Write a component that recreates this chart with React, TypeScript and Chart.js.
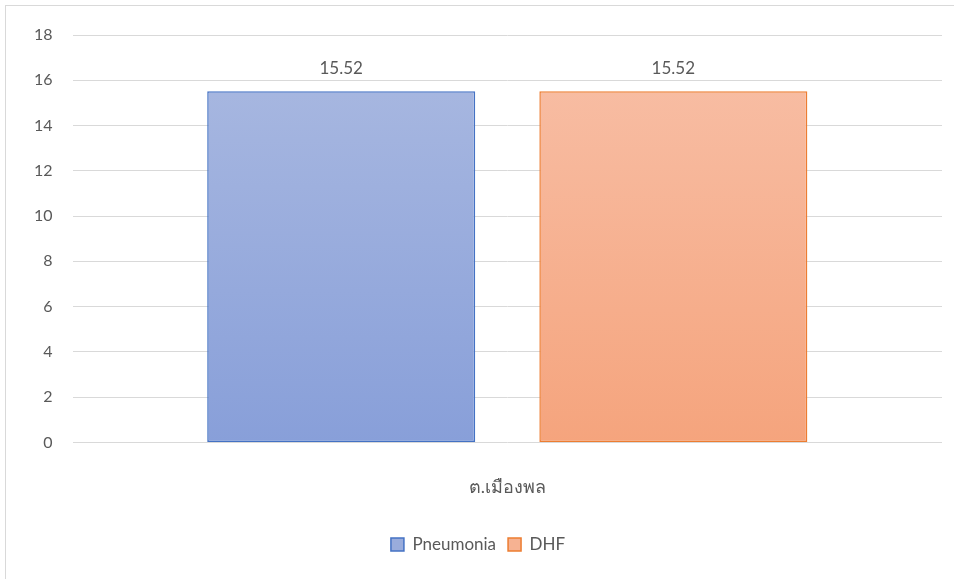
import React, { useEffect, useRef } from "react";
import { Chart, registerables } from "chart.js";

Chart.register(...registerables);

const categories = ["ต.เมืองพล"];
const seriesNames = ["Pneumonia", "DHF"];
const pneumoniaValues = [15.52];
const dhfValues = [15.52];
const yTicks = [0, 2, 4, 6, 8, 10, 12, 14, 16, 18];

const FONT = "Lato, 'Open Sans', 'Noto Sans', sans-serif";
const TEXT = "#595959";

function grad(ctx: any, top: string, bottom: string, fallback: string) {
  const chart = ctx.chart;
  const area = chart.chartArea;
  if (!area) return fallback;
  const g = chart.ctx.createLinearGradient(0, area.top, 0, area.bottom);
  g.addColorStop(0, top);
  g.addColorStop(1, bottom);
  return g;
}

const valueLabels = {
  id: "valueLabels",
  afterDatasetsDraw(chart: any) {
    const { ctx } = chart;
    ctx.save();
    ctx.font = `17px ${FONT}`;
    ctx.fillStyle = TEXT;
    ctx.textAlign = "center";
    ctx.textBaseline = "bottom";
    chart.data.datasets.forEach((ds: any, i: number) => {
      const meta = chart.getDatasetMeta(i);
      meta.data.forEach((bar: any, j: number) => {
        ctx.fillText(ds.data[j].toFixed(2), bar.x, bar.y - 14);
      });
    });
    ctx.restore();
  },
};

export default function App() {
  const ref = useRef<HTMLCanvasElement>(null);
  useEffect(() => {
    if (!ref.current) return;
    const chart = new Chart(ref.current, {
      type: "bar",
      data: {
        labels: categories,
        datasets: [
          {
            label: seriesNames[0],
            data: pneumoniaValues,
            backgroundColor: (c: any) => grad(c, "#abbae1", "#889fd9", "#99acdc"),
            borderColor: "#4472c4",
            borderWidth: 1.5,
            borderSkipped: false,
          },
          {
            label: seriesNames[1],
            data: dhfValues,
            backgroundColor: (c: any) => grad(c, "#f8c0a8", "#f5a47d", "#f6b292"),
            borderColor: "#ed7d31",
            borderWidth: 1.5,
            borderSkipped: false,
          },
        ],
      },
      options: {
        responsive: false,
        animation: false,
        layout: { padding: { left: 14, right: 12, top: 35, bottom: 16 } },
        datasets: { bar: { categoryPercentage: 0.764, barPercentage: 0.807 } },
        scales: {
          x: {
            grid: { display: false },
            border: { display: false },
            ticks: { color: TEXT, font: { family: FONT, size: 18 }, padding: 26 },
          },
          y: {
            min: 0,
            max: 18,
            afterBuildTicks: (axis: any) => {
              axis.ticks = yTicks.map((v) => ({ value: v }));
            },
            grid: { color: "#d9d9d9", lineWidth: 1, drawTicks: false },
            border: { display: false },
            ticks: { color: TEXT, font: { family: FONT, size: 16 }, padding: 20 },
          },
        },
        plugins: {
          legend: {
            position: "bottom",
            labels: {
              color: TEXT,
              font: { family: FONT, size: 17 },
              boxWidth: 13,
              boxHeight: 13,
              padding: 12,
              generateLabels: (chart: any) =>
                chart.data.datasets.map((ds: any, i: number) => ({
                  text: ds.label,
                  fillStyle: i === 0 ? "#99acdc" : "#f6b292",
                  strokeStyle: ds.borderColor,
                  lineWidth: 1.5,
                  fontColor: TEXT,
                  datasetIndex: i,
                  hidden: false,
                })),
            },
          },
          tooltip: { enabled: false },
        },
      },
      plugins: [valueLabels],
    });
    return () => chart.destroy();
  }, []);
  return (
    <div>
      <div
        style={{
          position: "fixed",
          left: 5,
          top: 5,
          width: 1000,
          height: 1000,
          border: "1px solid #d9d9d9",
          boxSizing: "border-box",
          pointerEvents: "none",
        }}
      />
      <canvas
        ref={ref}
        width={954}
        height={579}
        style={{ position: "fixed", left: 0, top: 0, width: 954, height: 579 }}
      />
    </div>
  );
}
